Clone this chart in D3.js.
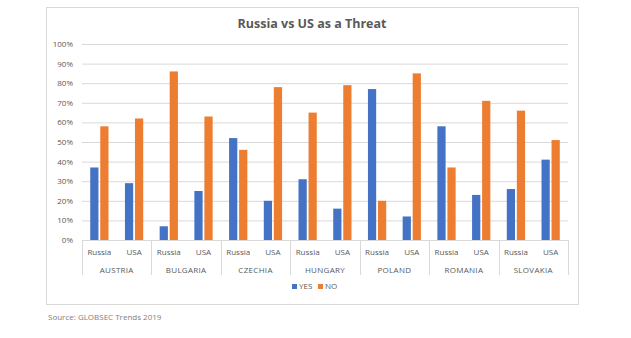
<!DOCTYPE html>
<html lang="en">
<head>
<meta charset="UTF-8">
<title>Russia vs US as a Threat</title>
<script src="https://cdn.jsdelivr.net/npm/d3@7"></script>
<style>
  body { margin: 0; background: #fff; }
  text { font-family: "Open Sans", "Liberation Sans", sans-serif; }
</style>
</head>
<body>
<div id="chart"></div>
<script>
// data
const countries = ["AUSTRIA", "BULGARIA", "CZECHIA", "HUNGARY", "POLAND", "ROMANIA", "SLOVAKIA"];
const targets = ["Russia", "USA"];
const series = ["YES", "NO"];
// one pair per country: [Russia, USA]
const yesValues = [[37, 29], [7, 25], [52, 20], [31, 16], [77, 12], [58, 23], [26, 41]];
const noValues  = [[58, 62], [86, 63], [46, 78], [65, 79], [20, 85], [37, 71], [66, 51]];
const yTicks = [0, 10, 20, 30, 40, 50, 60, 70, 80, 90, 100];

const width = 631, height = 338;
const plot = { left: 82, right: 568, top: 44, bottom: 240 };
const colors = { YES: "#4472C4", NO: "#ED7D31" };

// flatten into rows for the band scale
const rows = [];
countries.forEach((c, i) => {
    targets.forEach((t, j) => {
        rows.push({ key: c + "|" + t, country: c, target: t, YES: yesValues[i][j], NO: noValues[i][j] });
    });
});

const svg = d3.select("#chart").append("svg")
    .attr("width", width)
    .attr("height", height);

// chart frame
svg.append("rect")
    .attr("x", 46.5).attr("y", 7.5)
    .attr("width", 532).attr("height", 297)
    .attr("fill", "#fff")
    .attr("stroke", "#d9d9d9");

svg.append("text")
    .attr("x", 312).attr("y", 28)
    .attr("text-anchor", "middle")
    .attr("font-size", 12.5)
    .attr("font-weight", "bold")
    .attr("fill", "#595959")
    .text("Russia vs US as a Threat");

const y = d3.scaleLinear().domain([0, 100]).range([plot.bottom, plot.top]);
const x0 = d3.scaleBand().domain(rows.map(d => d.key)).range([plot.left, plot.right]);
const x1 = d3.scaleBand().domain(series).range([0, x0.bandwidth()]).paddingInner(0.18).paddingOuter(0.82);
const xc = d3.scaleBand().domain(countries).range([plot.left, plot.right]);

// gridlines
svg.append("g").selectAll("line")
    .data(yTicks.slice(1))
    .join("line")
    .attr("x1", plot.left).attr("x2", plot.right)
    .attr("y1", d => y(d) + 0.5).attr("y2", d => y(d) + 0.5)
    .attr("stroke", "#d9d9d9");

// y axis labels
const yAxis = svg.append("g")
    .attr("transform", `translate(${plot.left - 6},0)`)
    .call(d3.axisLeft(y).tickValues(yTicks).tickFormat(d => d + "%").tickSize(0));
yAxis.select(".domain").remove();
yAxis.selectAll("text").attr("font-size", 8).attr("fill", "#595959").attr("font-family", null);

// bars
const groups = svg.append("g").selectAll("g")
    .data(rows)
    .join("g")
    .attr("transform", d => `translate(${x0(d.key)},0)`);
groups.selectAll("rect")
    .data(d => series.map(s => ({ s, v: d[s] })))
    .join("rect")
    .attr("x", d => x1(d.s))
    .attr("width", x1.bandwidth())
    .attr("y", d => y(d.v))
    .attr("height", d => y(0) - y(d.v))
    .attr("fill", d => colors[d.s]);

// baseline
svg.append("line")
    .attr("x1", plot.left).attr("x2", plot.right)
    .attr("y1", plot.bottom + 0.5).attr("y2", plot.bottom + 0.5)
    .attr("stroke", "#d9d9d9");

// category dividers
const dividers = countries.map(c => xc(c)).concat([plot.right]);
svg.append("g").selectAll("line")
    .data(dividers)
    .join("line")
    .attr("x1", d => Math.round(d) + 0.5).attr("x2", d => Math.round(d) + 0.5)
    .attr("y1", plot.bottom).attr("y2", 275)
    .attr("stroke", "#d9d9d9");

// sub labels
svg.append("g").selectAll("text")
    .data(rows)
    .join("text")
    .attr("x", d => x0(d.key) + x0.bandwidth() / 2)
    .attr("y", 255)
    .attr("text-anchor", "middle")
    .attr("font-size", 8)
    .attr("fill", "#595959")
    .text(d => d.target);

// country labels
svg.append("g").selectAll("text")
    .data(countries)
    .join("text")
    .attr("x", d => xc(d) + xc.bandwidth() / 2)
    .attr("y", 273)
    .attr("text-anchor", "middle")
    .attr("font-size", 8)
    .attr("letter-spacing", 0.3)
    .attr("fill", "#595959")
    .text(d => d);

// legend
const legend = svg.append("g").attr("transform", "translate(292,289)");
const legendX = [0, 26];
series.forEach((s, i) => {
    legend.append("rect")
        .attr("x", legendX[i]).attr("y", -5)
        .attr("width", 5).attr("height", 5)
        .attr("fill", colors[s]);
    legend.append("text")
        .attr("x", legendX[i] + 7).attr("y", 0)
        .attr("font-size", 8)
        .attr("fill", "#595959")
        .text(s);
});

// source note
svg.append("text")
    .attr("x", 48).attr("y", 320)
    .attr("font-size", 8)
    .attr("fill", "#808080")
    .text("Source: GLOBSEC Trends 2019");
</script>
</body>
</html>
